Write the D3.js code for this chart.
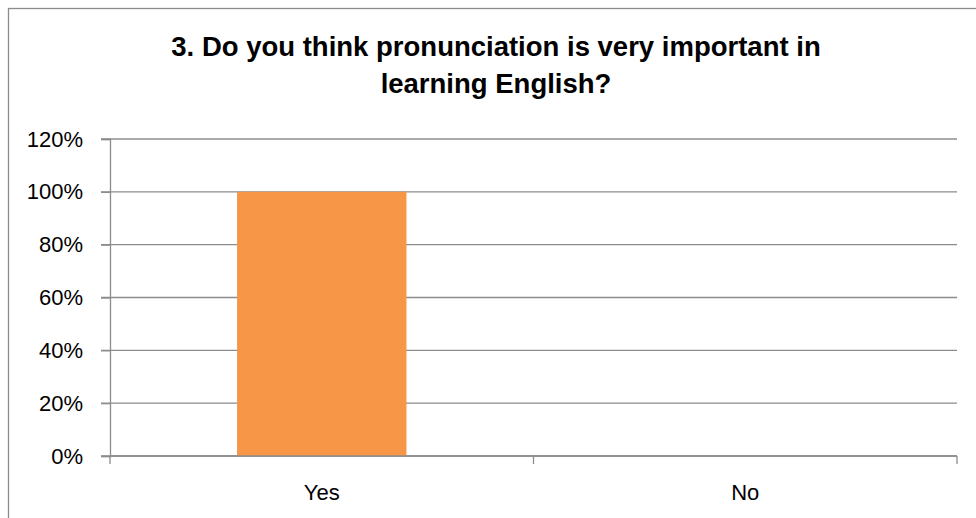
<!DOCTYPE html>
<meta charset="utf-8">
<style>
    body { margin: 0; background: #fff; }
    text { font-family: "Liberation Sans", Arial, sans-serif; fill: #000; }
    .title { font-weight: bold; font-size: 27.5px; }
    .axis text { font-size: 22px; }
    .grid line { stroke: #8c8c8c; stroke-width: 1.3px; }
</style>
<svg width="976" height="518"></svg>
<script src="https://d3js.org/d3.v7.min.js"></script>
<script>
    // chart data
    const categories = ["Yes", "No"];
    const values = [100, 0];
    const yTicks = [0, 20, 40, 60, 80, 100, 120];
    const titleLines = ["3. Do you think pronunciation is very important in", "learning English?"];

    const width = 976, height = 518;
    const margin = { left: 110, right: 19, top: 139, bottom: 62 };
    const axisColor = "#8c8c8c";

    const svg = d3.select("svg");

    // outer frame (runs off the right and bottom edge like the source)
    svg.append("rect")
        .attr("x", 8.5).attr("y", 8.5)
        .attr("width", width + 20).attr("height", height + 20)
        .attr("fill", "none")
        .attr("stroke", axisColor)
        .attr("stroke-width", 1.3);

    const x = d3.scaleBand()
        .domain(categories)
        .range([margin.left, width - margin.right])
        .paddingInner(0.6)
        .paddingOuter(0.3);

    const y = d3.scaleLinear()
        .domain([0, 120])
        .range([height - margin.bottom, margin.top]);

    // gridlines
    svg.append("g")
        .attr("class", "grid")
        .selectAll("line")
        .data(yTicks)
        .enter().append("line")
        .attr("x1", margin.left - 9)
        .attr("x2", width - margin.right)
        .attr("y1", d => y(d))
        .attr("y2", d => y(d));

    // bars
    svg.append("g")
        .selectAll("rect")
        .data(categories)
        .enter().append("rect")
        .attr("x", d => x(d))
        .attr("width", x.bandwidth())
        .attr("y", (d, i) => y(values[i]))
        .attr("height", (d, i) => y(0) - y(values[i]))
        .attr("fill", "#f79646");

    // y axis
    const yAxis = svg.append("g")
        .attr("class", "axis")
        .attr("transform", "translate(" + margin.left + ",0)")
        .call(d3.axisLeft(y).tickValues(yTicks).tickFormat(d => d + "%").tickSize(9).tickPadding(18));
    yAxis.select(".domain").attr("stroke", axisColor).attr("stroke-width", 1.3);
    yAxis.selectAll(".tick line").attr("stroke", axisColor).attr("stroke-width", 1.3);

    // x axis: ticks sit on the band edges
    const xAxis = svg.append("g")
        .attr("class", "axis")
        .attr("transform", "translate(0," + y(0) + ")");
    xAxis.append("line")
        .attr("x1", margin.left).attr("x2", width - margin.right)
        .attr("stroke", axisColor).attr("stroke-width", 1.3);
    const step = x.step();
    const edges = d3.range(categories.length + 1).map(i => margin.left + i * step);
    xAxis.selectAll(".edge")
        .data(edges)
        .enter().append("line")
        .attr("x1", d => d).attr("x2", d => d)
        .attr("y1", 0).attr("y2", 8)
        .attr("stroke", axisColor).attr("stroke-width", 1.3);
    xAxis.selectAll(".lbl")
        .data(categories)
        .enter().append("text")
        .attr("x", d => x(d) + x.bandwidth() / 2)
        .attr("y", 44)
        .attr("text-anchor", "middle")
        .text(d => d);

    // title
    svg.append("g")
        .selectAll("text")
        .data(titleLines)
        .enter().append("text")
        .attr("class", "title")
        .attr("x", 496)
        .attr("y", (d, i) => 56 + i * 37)
        .attr("text-anchor", "middle")
        .text(d => d);
</script>
